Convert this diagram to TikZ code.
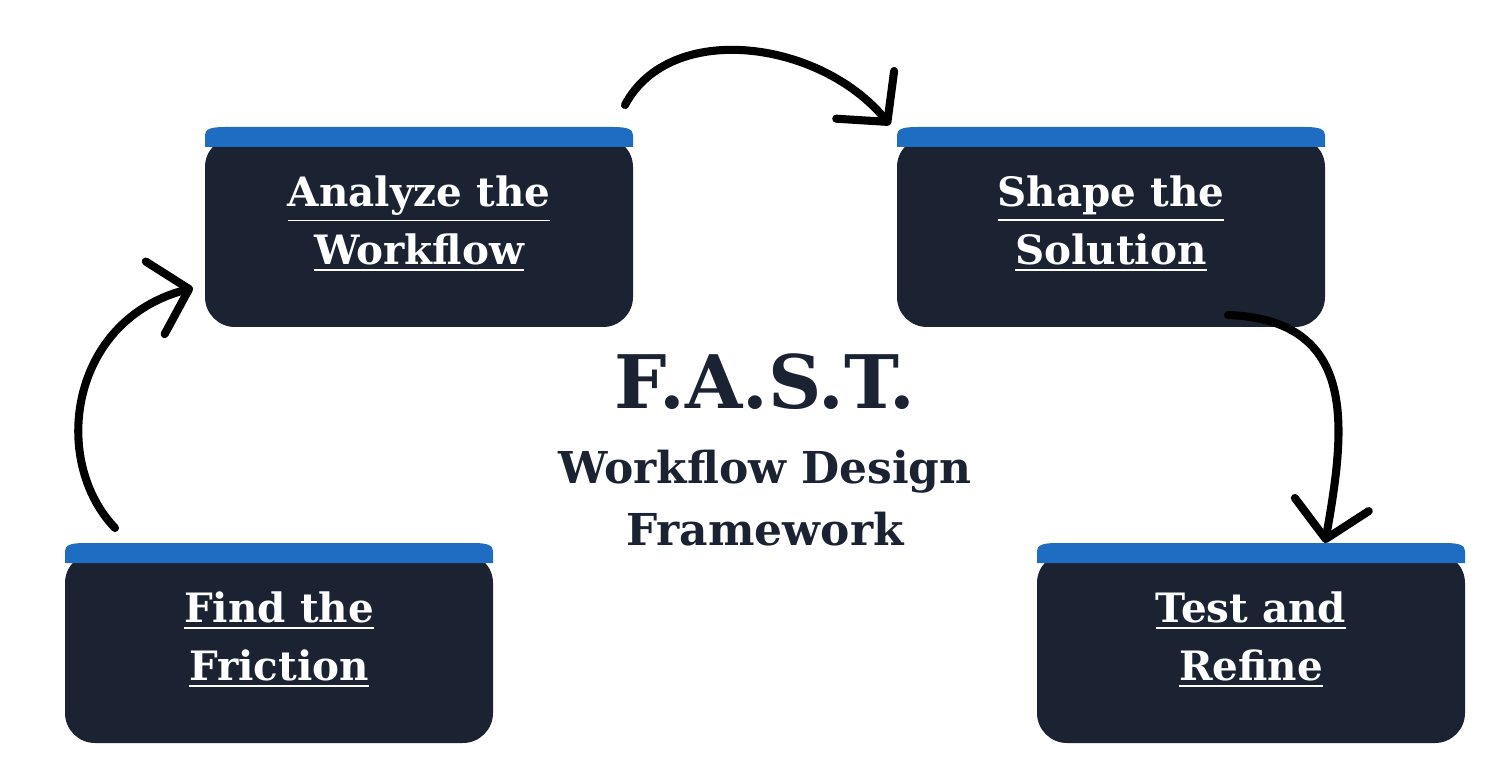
\documentclass[tikz,border=0pt]{standalone}
\usepackage{fontspec}
\setmainfont{DejaVu Serif}
\usetikzlibrary{arrows.meta}
\definecolor{navy}{HTML}{1B2333}
\definecolor{capblue}{HTML}{1F6DC2}
\begin{document}
\begin{tikzpicture}[x=0.01cm,y=-0.01cm,
  lbl/.style={text=white,font=\bfseries\fontsize{11.5}{16.5}\selectfont,align=center},
  arr/.style={line width=2.3pt,line cap=round,-{Straight Barb[length=3.5mm,width=7.5mm,line cap=round,line join=round]}}]
\useasboundingbox (0,0) rectangle (1496,770);
\newcommand{\stepbox}[4]{%
  \fill[navy,rounded corners=0.3cm] (#1,#2+10) rectangle (#1+428,#2+200);
  \fill[capblue] (#1,#2+20) -- (#1,#2+8) .. controls (#1,#2+2) and (#1+6,#2) .. (#1+20,#2)
     -- (#1+408,#2) .. controls (#1+422,#2) and (#1+428,#2+2) .. (#1+428,#2+8) -- (#1+428,#2+20) -- cycle;
  \node[lbl] (#3) at (#1+214,#2+97) {#4};}
\stepbox{205}{127}{analyze}{\underline{Analyze the}\\\underline{Workflow}}
\stepbox{897}{127}{shape}{\underline{Shape the}\\\underline{Solution}}
\stepbox{65}{543}{find}{\underline{Find the}\\\underline{Friction}}
\stepbox{1037}{543}{test}{\underline{Test and}\\\underline{Refine}}
\node[text=navy,font=\bfseries\fontsize{21}{25}\selectfont] (title) at (765,382) {F.A.S.T.};
\node[text=navy,font=\bfseries\fontsize{12.5}{17.5}\selectfont,align=center] (sub) at (765,498) {Workflow Design\\Framework};
\coordinate (a1s) at (625,105); \coordinate (a1e) at (890,125);
\coordinate (a2s) at (1228,315); \coordinate (a2e) at (1325,543);
\coordinate (a3s) at (115,528); \coordinate (a3e) at (193,288);
\draw[arr] (a1s) .. controls (670,20) and (820,40) .. (a1e);
\draw[arr] (a2s) .. controls (1360,320) and (1345,430) .. (a2e);
\draw[arr] (a3s) .. controls (50,460) and (70,320) .. (a3e);
\end{tikzpicture}
\end{document}
